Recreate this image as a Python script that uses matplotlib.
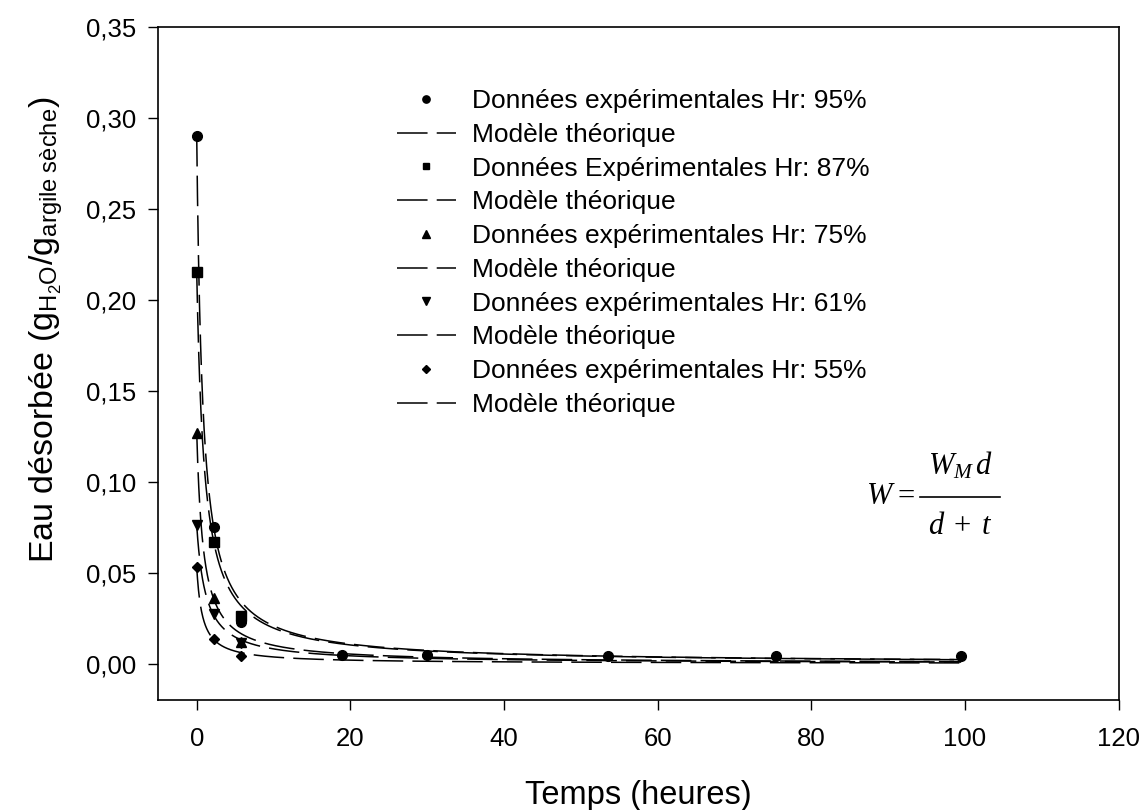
import matplotlib
matplotlib.use("Agg")
import matplotlib.pyplot as plt
from matplotlib.ticker import FuncFormatter
from matplotlib.lines import Line2D
import numpy as np

plt.rcParams['font.family'] = ['Liberation Sans', 'DejaVu Sans']
plt.rcParams['mathtext.fontset'] = 'custom'
plt.rcParams['mathtext.rm'] = 'Liberation Serif'
plt.rcParams['mathtext.it'] = 'Liberation Serif:italic'
plt.rcParams['mathtext.bf'] = 'Liberation Serif:bold'

# experimental points (time in hours, desorbed water)
t_95 = [0, 2.2, 5.7, 18.9, 30.0, 53.5, 75.4, 99.5]
w_95 = [0.290, 0.075, 0.023, 0.0045, 0.0046, 0.0042, 0.0042, 0.0042]
t_87 = [0, 2.2, 5.7]
w_87 = [0.215, 0.067, 0.026]
t_75 = [0, 2.2, 5.7]
w_75 = [0.127, 0.036, 0.012]
t_61 = [0, 2.2, 5.7]
w_61 = [0.076, 0.027, 0.0115]
t_55 = [0, 2.2, 5.7]
w_55 = [0.053, 0.0133, 0.0042]

# model W = W_M d / (d + t), parameters
wm_params = [0.290, 0.215, 0.127, 0.076, 0.053]
d_params = [0.77, 1.0, 0.86, 1.19, 0.74]
t_model_end = 99.5

data_labels = ['Données expérimentales Hr: 95%', 'Données Expérimentales Hr: 87%',
               'Données expérimentales Hr: 75%', 'Données expérimentales Hr: 61%',
               'Données expérimentales Hr: 55%']
markers = ['o', 's', '^', 'v', 'D']
sizes = [7, 6.5, 7, 7, 5.5]
series = [(t_95, w_95), (t_87, w_87), (t_75, w_75), (t_61, w_61), (t_55, w_55)]

W, H = 1143, 810
fig = plt.figure(figsize=(W / 100, H / 100), dpi=100)
ax = fig.add_axes([0.1385, 0.1358, 0.8402, 0.8312])

tt = np.linspace(0, t_model_end, 3000)
dash = (0, (20, 6))
for i, (t, w) in enumerate(series):
    ax.plot(t, w, linestyle='none', marker=markers[i], ms=sizes[i], color='black',
            label=data_labels[i], zorder=5 - i)
    model = wm_params[i] * d_params[i] / (d_params[i] + tt)
    ax.plot(tt, model, linestyle=dash, color='black', lw=1.1, label='Modèle théorique')

ax.set_xlim(-5, 120)
ax.set_ylim(-0.02, 0.35)
ax.set_xticks(np.arange(0, 121, 20))
ax.set_yticks(np.arange(0, 0.351, 0.05))
ax.yaxis.set_major_formatter(FuncFormatter(lambda v, p: f"{v:.2f}".replace('.', ',')))
ax.tick_params(direction='out', length=7, width=1, labelsize=18.5, pad=9)
ax.tick_params(axis='x', pad=12.5)
for s in ax.spines.values():
    s.set_linewidth(1.2)

ax.set_xlabel('Temps (heures)', fontsize=23.5, labelpad=21)
ax.set_ylabel('Eau désorbée (g$_{\\mathregular{H_2O}}$/g$_{\\mathregular{argile\\ sèche}}$)',
              fontsize=24.5)
ax.yaxis.set_label_coords(-0.097, 0.55)

leg = fig.legend(loc='upper left', bbox_to_anchor=(0.347, 0.890), frameon=False,
                 fontsize=19, handlelength=2.25, handletextpad=0.6, labelspacing=0.37,
                 borderpad=0, borderaxespad=0, markerscale=0.75)

# formula W = W_M d / (d + t)
def px(x, y):
    return x / W, 1 - y / H

serif = dict(fontfamily='Liberation Serif', fontsize=22, va='center', ha='center')
fig.text(*px(880, 497), 'W', style='italic', **serif)
fig.text(*px(906, 497), '=', **serif)
fig.text(*px(960, 466), r'$W_{M}\,d$', **serif)
fig.text(*px(960, 527), r'$d\;+\;t$', **serif)
fig.add_artist(Line2D([920 / W, 1000 / W], [1 - 497 / H, 1 - 497 / H],
                      color='black', lw=1.2, transform=fig.transFigure))

fig.savefig('out.png', dpi=100)
